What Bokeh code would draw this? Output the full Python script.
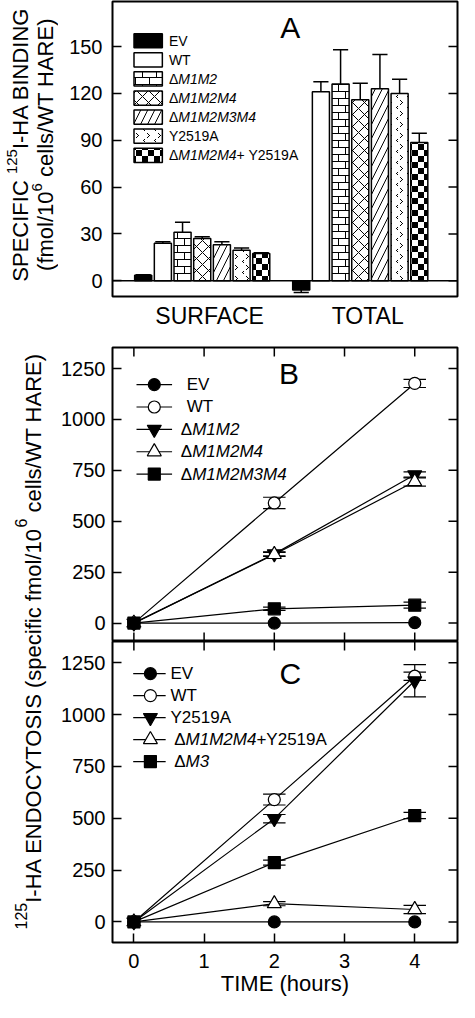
import zlib, struct, base64
import numpy as np
from bokeh.plotting import figure
from bokeh.layouts import row, column
from bokeh.models import Range1d, FixedTicker, Span, ImageURLTexture
from bokeh.core.properties import value
from bokeh.embed import file_html
from bokeh.resources import INLINE

FONT = "Liberation Sans"

# ---------------- Panel A data ----------------
bar_groups = ["SURFACE", "TOTAL"]
a_constructs = ["EV", "WT", "ΔM1M2", "ΔM1M2M4", "ΔM1M2M3M4", "Y2519A", "ΔM1M2M4+ Y2519A"]
a_surface = [3.5, 24.0, 31.0, 27.0, 23.0, 19.5, 17.5]
a_surface_err = [0.4, 1.0, 6.5, 1.2, 2.0, 1.5, 0.4]
a_total = [-6.0, 121.0, 126.0, 116.0, 123.0, 120.0, 88.5]
a_total_err = [1.5, 6.5, 22.0, 10.5, 22.0, 9.0, 6.0]
a_yticks = [0, 30, 60, 90, 120, 150]

# ---------------- Panel B / C data ----------------
hours = [0, 2, 4]
time_ticks = [0, 1, 2, 3, 4]
endo_ticks = [0, 250, 500, 750, 1000, 1250]

b_labels = ["EV", "WT", "ΔM1M2", "ΔM1M2M4", "ΔM1M2M3M4"]
b_ev = [0, 0, 2]
b_ev_err = [0, 0, 0]
b_wt = [0, 590, 1177]
b_wt_err = [0, 28, 20]
b_m1m2 = [0, 340, 728]
b_m1m2_err = [0, 10, 15]
b_m1m2m4 = [0, 337, 695]
b_m1m2m4_err = [0, 10, 22]
b_m1m2m3m4 = [0, 70, 88]
b_m1m2m3m4_err = [0, 8, 15]

c_labels = ["EV", "WT", "Y2519A", "ΔM1M2M4+Y2519A", "ΔM3"]
c_ev = [0, 0, 0]
c_ev_err = [0, 0, 0]
c_wt = [0, 590, 1185]
c_wt_err = [0, 26, 20]
c_y2519a = [0, 498, 1163]
c_y2519a_err = [0, 20, 78]
c_m1m2m4y = [0, 88, 60]
c_m1m2m4y_err = [0, 10, 20]
c_m3 = [0, 286, 513]
c_m3_err = [0, 12, 15]

# ---------------- layout constants ----------------
LAB_W, MAIN_W = 58, 401
A_H, B_H, C_H = 346, 295, 359
TOTAL_H = A_H + B_H + C_H
MB_LEFT, MB_RIGHT = 52, 2
TICK = 18  # dash length; half of it is visible inside the frame

# mapping of reference pixel positions to data units (for annotations)
def ax_(px): return 1 + (px - 210.8) / 161.7
def ay_(py): return (284.0 - py) / 1.582
def bx_(px): return (px - 139.0) / 72.25
def by_(py): return (631.4 - py) / 0.2057
def cy_(py): return (926.7 - py) / 0.2046

# Arial / Liberation Sans advance widths (1/1000 em)
W = {' ': 278, '(': 333, ')': 333, '+': 584, '-': 333, '/': 278,
     'A': 667, 'B': 667, 'C': 722, 'D': 722, 'E': 667, 'F': 611, 'G': 778, 'H': 722,
     'I': 278, 'M': 833, 'N': 722, 'O': 778, 'P': 667, 'R': 722, 'S': 667, 'T': 611,
     'V': 667, 'W': 944, 'Y': 667, 'a': 556, 'c': 500, 'e': 556, 'f': 278, 'h': 556,
     'i': 222, 'l': 222, 'm': 833, 'o': 556, 'p': 556, 'r': 333, 's': 500, 'u': 556,
     'Δ': 668}
for d in "0123456789":
    W[d] = 556

def text_width(s, size):
    return sum(W.get(ch, 556) for ch in s) * size / 1000.0

def label_runs(lab):
    if not lab.startswith("Δ"):
        return [(lab, False)]
    rest = lab[1:]
    if "+" in rest:
        i = rest.index("+")
        return [("Δ", False), (rest[:i], True), (rest[i:], False)]
    return [("Δ", False), (rest, True)]

def draw_runs(p, x, y, runs, size):
    off = 0.0
    groups = {False: dict(x=[], y=[], text=[], xo=[]), True: dict(x=[], y=[], text=[], xo=[])}
    for t, it in runs:
        lead = len(t) - len(t.lstrip())
        off += text_width(t[:lead], size)
        t = t.lstrip()
        g = groups[it]
        g["x"].append(x); g["y"].append(y); g["text"].append(t); g["xo"].append(off)
        off += text_width(t, size)
    for it, g in groups.items():
        if g["text"]:
            p.text(x=g["x"], y=g["y"], text=g["text"], x_offset=g["xo"],
                   text_font=value(FONT), text_font_size=f"{size}px",
                   text_font_style="italic" if it else "normal",
                   text_align="left", text_baseline="middle", text_color="black")

def setup_axis(ax, ticks, size="20px", standoff=10, tick_in=9):
    ax.ticker = FixedTicker(ticks=ticks)
    ax.axis_line_color = None
    ax.major_tick_in = tick_in
    ax.major_tick_out = 0
    ax.major_tick_line_width = 1.5
    ax.major_tick_line_color = "black"
    ax.minor_tick_line_color = None
    ax.major_label_text_font = FONT
    ax.major_label_text_color = "black"
    ax.major_label_text_font_size = size
    ax.major_label_standoff = standoff

def base_fig(h, xr, yr, top, bottom, xloc):
    p = figure(width=MAIN_W, height=h, x_range=Range1d(*xr), y_range=Range1d(*yr),
               output_backend="svg", toolbar_location=None, tools="",
               x_axis_location=xloc, y_axis_location="left",
               min_border_left=MB_LEFT, min_border_right=MB_RIGHT,
               min_border_top=top, min_border_bottom=bottom)
    p.xgrid.visible = False
    p.ygrid.visible = False
    p.outline_line_color = "black"
    p.outline_line_width = 2
    p.background_fill_color = "white"
    p.border_fill_color = "white"
    return p

def edge_ticks(p, xticks=None, yticks=None, top=False, bottom=False, right=False):
    """Inward tick marks on frame edges: dashes centred on the edge, clipped by the frame."""
    xr, yr = p.x_range, p.y_range
    if xticks is not None:
        for on, yv in ((top, yr.end), (bottom, yr.start)):
            if on:
                p.scatter(x=xticks, y=[yv] * len(xticks), marker="dash", size=TICK,
                          angle=np.pi / 2, line_color="black", line_width=1.5)
    if yticks is not None and right:
        p.scatter(x=[xr.end] * len(yticks), y=yticks, marker="dash", size=TICK,
                  line_color="black", line_width=1.5)

# ---------------- textures (small PNG tiles) ----------------
def png_tile(fn, w, h):
    raw = b""
    for yy in range(h):
        raw += b"\x00"
        for xx in range(w):
            raw += b"\x00\xff" if fn(xx, yy) else b"\xff\x00"
    def chunk(t, d):
        return struct.pack(">I", len(d)) + t + d + struct.pack(">I", zlib.crc32(t + d) & 0xffffffff)
    png = (b"\x89PNG\r\n\x1a\n" + chunk(b"IHDR", struct.pack(">IIBBBBB", w, h, 8, 4, 0, 0, 0))
           + chunk(b"IDAT", zlib.compress(raw)) + chunk(b"IEND", b""))
    return ImageURLTexture(url="data:image/png;base64," + base64.b64encode(png).decode())

brick = png_tile(lambda x, y: y in (0, 7) or (x == 0 and y < 7) or (x == 7 and y > 7), 14, 14)
checker = png_tile(lambda x, y: ((x // 6) + (y // 6)) % 2 == 0, 12, 12)
chev_px = {(1, 1), (2, 2), (3, 3), (2, 4), (1, 5), (9, 7), (8, 8), (9, 9)}
chevron = png_tile(lambda x, y: (x, y) in chev_px, 11, 11)

a_styles = [
    dict(fill_color="black"),
    dict(fill_color="white"),
    dict(fill_color="white", hatch_pattern=value("brick"), hatch_extra={"brick": brick}),
    dict(fill_color="white", hatch_pattern="diagonal_cross", hatch_scale=12, hatch_weight=1),
    dict(fill_color="white", hatch_pattern="right_diagonal_line", hatch_scale=14, hatch_weight=1),
    dict(fill_color="white", hatch_pattern=value("chev"), hatch_extra={"chev": chevron}),
    dict(fill_color="white", hatch_pattern=value("checker"), hatch_extra={"checker": checker}),
]

# ---------------- Panel A ----------------
pa = base_fig(A_H, (ax_(119), ax_(472)), (ay_(300), ay_(1)), 1, 50, "below")
setup_axis(pa.yaxis[0], a_yticks)
group_x = [i + 1 for i in range(len(bar_groups))]
lab_x = [round(g + 0.047, 3) for g in group_x]
xa = pa.xaxis[0]
setup_axis(xa, lab_x, size="23px", standoff=6)
xa.major_tick_line_color = None
xa.major_label_overrides = {lx: name for lx, name in zip(lab_x, bar_groups)}
edge_ticks(pa, yticks=a_yticks, right=True)

step, bw, capw = 0.1245, 0.108, 0.048
n = len(a_constructs)
for i, (lab, st) in enumerate(zip(a_constructs, a_styles)):
    off = (i - (n - 1) / 2) * step
    xs = [g + off for g in group_x]
    vals = [a_surface[i], a_total[i]]
    errs = [a_surface_err[i], a_total_err[i]]
    pa.vbar(x=xs, top=vals, bottom=0, width=bw, line_color="black", line_width=1.5,
            hatch_color="black", **st)
    ends = [v + np.sign(v) * e for v, e in zip(vals, errs)]
    pa.segment(x0=xs, y0=vals, x1=xs, y1=ends, line_color="black", line_width=1.5)
    pa.segment(x0=[x - capw for x in xs], y0=ends, x1=[x + capw for x in xs], y1=ends,
               line_color="black", line_width=1.5)
    # legend entry
    rc = 40.8 + i * 19.35
    pa.quad(left=[ax_(141)], right=[ax_(170)], top=[ay_(rc - 7.2)], bottom=[ay_(rc + 7.2)],
            line_color="black", line_width=1.5, hatch_color="black", **st)
    draw_runs(pa, ax_(176.7), ay_(rc), label_runs(lab), 14)
pa.add_layout(Span(location=0, dimension="width", line_color="black", line_width=1.5))
pa.text(x=[ax_(301)], y=[ay_(27)], text=["A"], text_font=value(FONT), text_font_size="30px",
        text_align="center", text_baseline="middle", text_color="black")

# ---------------- Panels B and C ----------------
def time_panel(h, yr, top, bottom, series, labels, yconv, leg_rows, leg_step, line_x0, line_x1,
               mark_x, text_x, letter, letter_xy, show_x_labels):
    p = base_fig(h, (bx_(117), bx_(472)), yr, top, bottom, "below" if show_x_labels else None)
    setup_axis(p.yaxis[0], endo_ticks, standoff=7)
    if show_x_labels:
        xb = p.xaxis[0]
        setup_axis(xb, time_ticks, size="20px", standoff=11)
        xb.axis_label = "TIME (hours)"
        xb.axis_label_text_font = FONT
        xb.axis_label_text_font_size = "22px"
        xb.axis_label_text_font_style = "normal"
        xb.axis_label_text_color = "black"
        xb.axis_label_standoff = 0
        edge_ticks(p, xticks=time_ticks, top=True)
    else:
        edge_ticks(p, xticks=time_ticks, top=True, bottom=True)
    edge_ticks(p, yticks=endo_ticks, right=True)
    for vals, errs, mk, fc, sz in series:
        p.line(hours, vals, line_color="black", line_width=1.2)
    cw = 0.16
    for vals, errs, mk, fc, sz in series:
        idx = [k for k in range(len(hours)) if errs[k] > 0]
        xs = [hours[k] for k in idx]
        lo = [vals[k] - errs[k] for k in idx]
        hi = [vals[k] + errs[k] for k in idx]
        p.segment(x0=xs, y0=lo, x1=xs, y1=hi, line_color="black", line_width=1.2)
        p.segment(x0=[x - cw for x in xs], y0=hi, x1=[x + cw for x in xs], y1=hi, line_color="black", line_width=1.2)
        p.segment(x0=[x - cw for x in xs], y0=lo, x1=[x + cw for x in xs], y1=lo, line_color="black", line_width=1.2)
    for vals, errs, mk, fc, sz in series:
        p.scatter(hours, vals, marker=mk, size=sz, fill_color=fc, line_color="black", line_width=1.2)
    for i, ((vals, errs, mk, fc, sz), lab) in enumerate(zip(series, labels)):
        yy = yconv(leg_rows + i * leg_step)
        p.line([bx_(line_x0), bx_(line_x1)], [yy, yy], line_color="black", line_width=1.2)
        p.scatter([bx_(mark_x)], [yy], marker=mk, size=sz, fill_color=fc, line_color="black", line_width=1.2)
        tx = text_x[1] if lab.startswith("Δ") else text_x[0]
        draw_runs(p, bx_(tx), yy, label_runs(lab), 17)
    p.text(x=[bx_(letter_xy[0])], y=[yconv(letter_xy[1])], text=[letter], text_font=value(FONT),
           text_font_size="30px", text_align="center", text_baseline="middle", text_color="black")
    return p

b_series = [(b_ev, b_ev_err, "circle", "black", 12),
            (b_wt, b_wt_err, "circle", "white", 12),
            (b_m1m2, b_m1m2_err, "inverted_triangle", "black", 14),
            (b_m1m2m4, b_m1m2m4_err, "triangle", "white", 14),
            (b_m1m2m3m4, b_m1m2m3m4_err, "square", "black", 12)]
c_series = [(c_ev, c_ev_err, "circle", "black", 12),
            (c_wt, c_wt_err, "circle", "white", 12),
            (c_y2519a, c_y2519a_err, "inverted_triangle", "black", 14),
            (c_m1m2m4y, c_m1m2m4y_err, "triangle", "white", 14),
            (c_m3, c_m3_err, "square", "black", 12)]

pb = time_panel(B_H, (by_(650), by_(353)), 1, 0, b_series, b_labels, by_, 390.5, 22.6,
                141.7, 178.3, 160.0, (193.3, 187.3), "B", (298.5, 379.5), False)
pc = time_panel(C_H, (cy_(947), cy_(650)), 0, 58, c_series, c_labels, cy_, 681.7, 21.7,
                138.3, 171.7, 156.0, (176.7, 180.5), "C", (300.0, 681.5), True)

# ---------------- shared y-axis titles ----------------
pl = figure(width=LAB_W, height=TOTAL_H, x_range=Range1d(0, LAB_W), y_range=Range1d(0, TOTAL_H),
            output_backend="svg", toolbar_location=None, tools="", min_border=0,
            x_axis_location=None, y_axis_location=None)
pl.outline_line_color = None
pl.xgrid.visible = False
pl.ygrid.visible = False
pl.border_fill_color = "white"

def vertical_runs(p, base_x, center_y, runs, size, sup_size, raise_px):
    widths = [text_width(t, sup_size if s else size) for t, s in runs]
    y = center_y - sum(widths) / 2
    for (t, s), w in zip(runs, widths):
        fs = sup_size if s else size
        lead = len(t) - len(t.lstrip())
        yy = y + text_width(t[:lead], fs)
        p.text(x=[base_x - (raise_px if s else 0)], y=[yy], text=[t.strip()], angle=np.pi / 2,
               text_font=value(FONT), text_font_size=f"{fs}px",
               text_align="left", text_baseline="alphabetic", text_color="black")
        y += w

def page_to_lab(px, py):
    return px - 8, TOTAL_H - (py - 8)

a_line1 = [("SPECIFIC ", False), ("125", True), ("I-HA BINDING", False)]
a_line2 = [("(fmol/10", False), ("6", True), (" cells/WT HARE)", False)]
bc_line = [("125", True), ("I-HA ENDOCYTOSIS (specific fmol/10", False), ("6", True), (" cells/WT HARE)", False)]

x1, yc = page_to_lab(28, 152)
vertical_runs(pl, x1, yc, a_line1, 22, 15, 9)
x2, _ = page_to_lab(53, 152)
vertical_runs(pl, x2, yc, a_line2, 22, 15, 9)
x3, yc3 = page_to_lab(41, 649)
vertical_runs(pl, x3, yc3, bc_line, 22, 16, 12.5)

layout = row(pl, column(pa, pb, pc))
open("out.html", "w").write(file_html(layout, INLINE))
